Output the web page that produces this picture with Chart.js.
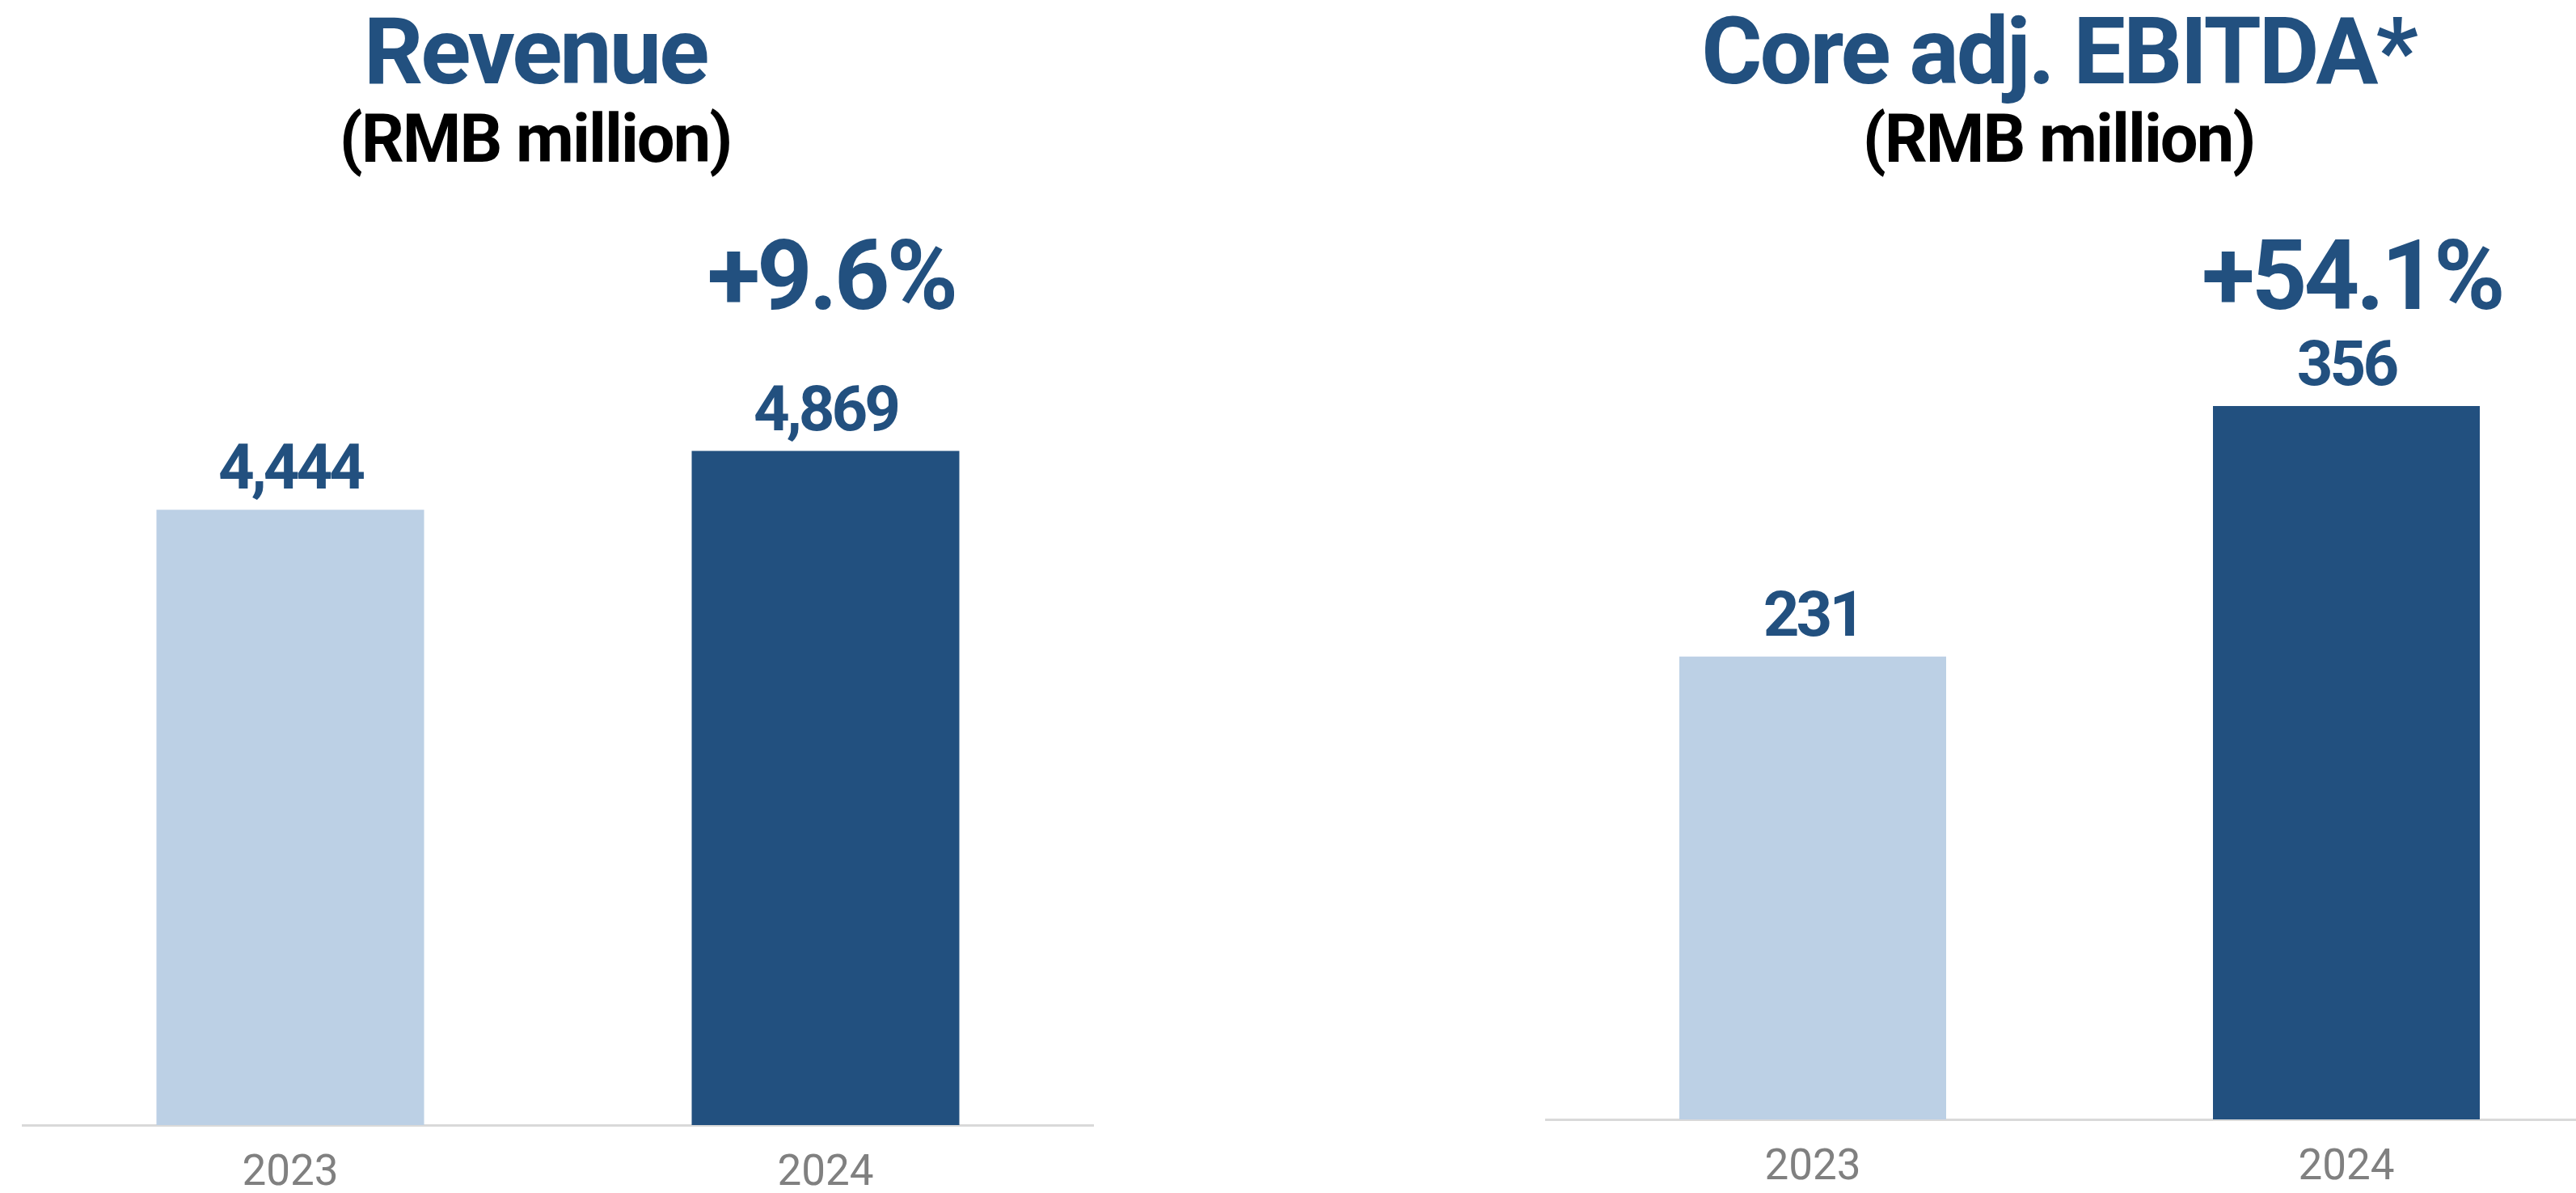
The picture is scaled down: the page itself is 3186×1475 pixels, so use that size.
<!DOCTYPE html>
<html>
<head>
<meta charset="utf-8">
<script src="https://cdn.jsdelivr.net/npm/chart.js@4/dist/chart.umd.min.js"></script>
<style>
  html, body { margin: 0; padding: 0; background: #ffffff; overflow: hidden; }
  body { width: 3186px; height: 1475px; position: relative; }
  .panel { position: absolute; top: 0; height: 1550px; }
  #revenuePanel { left: 0; width: 1593px; }
  #ebitdaPanel { left: 1593px; width: 1650px; }
</style>
</head>
<body>
<div class="panel" id="revenuePanel"><canvas id="revenueChart"></canvas></div>
<div class="panel" id="ebitdaPanel"><canvas id="ebitdaChart"></canvas></div>
<script>
const years = ['2023', '2024'];
const revenue = [4444, 4869];
const coreEbitda = [231, 356];
const revenueMax = 6000;
const ebitdaMax = 400;
const unitLabel = '(RMB million)';

const NAVY = '#22507f';
const PALE = '#bcd0e5';

// "+9.6%" style change from first to last year
function growthText(values) {
    const pct = (values[values.length - 1] / values[0] - 1) * 100;
    return '+' + pct.toFixed(1) + '%';
}

// numbers sitting on top of each bar
const valueLabels = {
    id: 'valueLabels',
    afterDatasetsDraw(chart) {
        const ctx = chart.ctx;
        const data = chart.data.datasets[0].data;
        ctx.save();
        ctx.font = 'bold 78px Roboto';
        ctx.letterSpacing = '-4px';
        ctx.fillStyle = NAVY;
        ctx.textAlign = 'center';
        ctx.textBaseline = 'alphabetic';
        chart.getDatasetMeta(0).data.forEach((bar, i) => {
            ctx.fillText(data[i].toLocaleString('en-US'), bar.x, bar.y - 26);
        });
        ctx.restore();
    }
};

// title, unit line and growth figure over the latest bar
const heading = {
    id: 'heading',
    afterDraw(chart, args, opts) {
        const ctx = chart.ctx;
        const bars = chart.getDatasetMeta(0).data;
        ctx.save();
        ctx.textAlign = 'center';
        ctx.textBaseline = 'alphabetic';

        ctx.fillStyle = NAVY;
        ctx.font = 'bold 115px Roboto';
        ctx.letterSpacing = '-3px';
        ctx.fillText(opts.text, opts.x, 103);

        ctx.fillStyle = '#000000';
        ctx.font = 'bold 83px Roboto';
        ctx.letterSpacing = '-2px';
        ctx.fillText(unitLabel, opts.x, 200);

        ctx.fillStyle = NAVY;
        ctx.font = 'bold 120px Roboto';
        ctx.letterSpacing = '-4px';
        ctx.fillText(opts.growth, bars[bars.length - 1].x + 7, 382);
        ctx.restore();
    }
};

function makeChart(canvasId, values, yMax, padding, title, titleX) {
    return new Chart(document.getElementById(canvasId), {
        type: 'bar',
        data: {
            labels: years,
            datasets: [{
                data: values,
                backgroundColor: [PALE, NAVY],
                borderWidth: 0,
                barPercentage: 1,
                categoryPercentage: 0.5
            }]
        },
        options: {
            responsive: true,
            maintainAspectRatio: false,
            animation: false,
            layout: { padding: padding },
            plugins: {
                legend: { display: false },
                tooltip: { enabled: false },
                heading: { text: title, x: titleX, growth: growthText(values) }
            },
            scales: {
                x: {
                    grid: { display: false, drawTicks: false },
                    border: { display: true, color: '#d9d9d9', width: 3 },
                    ticks: {
                        color: '#808080',
                        padding: 34,
                        font: { family: "'Liberation Sans Narrow', Roboto, sans-serif", size: 53, lineHeight: 1 }
                    }
                },
                y: { display: false, min: 0, max: yMax }
            }
        },
        plugins: [valueLabels, heading]
    });
}

makeChart('revenueChart', revenue, revenueMax,
    { left: 28, right: 241, top: 364, bottom: 38 }, 'Revenue', 662);
makeChart('ebitdaChart', coreEbitda, ebitdaMax,
    { left: 319, right: 11, top: 393, bottom: 45 }, 'Core adj. EBITDA*', 953);
</script>
</body>
</html>
